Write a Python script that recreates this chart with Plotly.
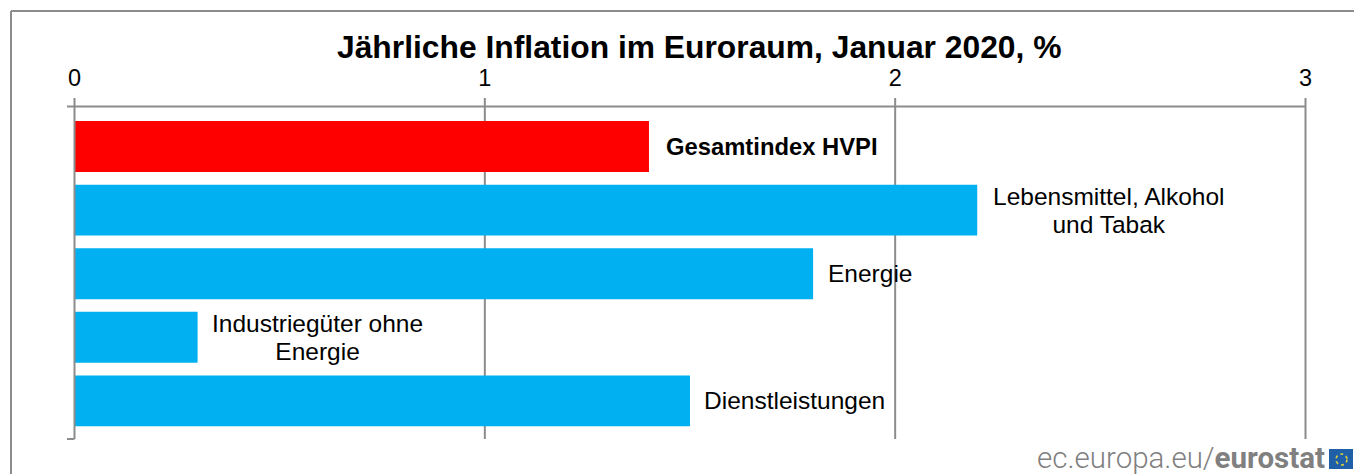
import plotly.graph_objects as go

W, H = 1354, 474
title = "Jährliche Inflation im Euroraum, Januar 2020, %"
categories = ["Gesamtindex HVPI", "Lebensmittel, Alkohol und Tabak", "Energie",
              "Industriegüter ohne Energie", "Dienstleistungen"]
labels = ["<b>Gesamtindex HVPI</b>", "Lebensmittel, Alkohol<br>und Tabak", "Energie",
          "Industriegüter ohne<br>Energie", "Dienstleistungen"]
values = [1.40, 2.20, 1.80, 0.30, 1.50]
colors = ["#FF0000", "#00B0F0", "#00B0F0", "#00B0F0", "#00B0F0"]
x_ticks = [0, 1, 2, 3]

GRAY = "#8C8C8C"
FONT = "Liberation Sans"
L, R, T, B = 74.5, 1305.5, 106.5, 439.0


def px(x):
    return x / W


def py(y):
    return 1 - y / H


fig = go.Figure(go.Bar(
    x=values, y=categories, orientation="h",
    marker=dict(color=colors, line=dict(width=0)),
    width=0.8, hoverinfo="skip",
))


def line(x0, y0, x1, y1, w=2, layer="above"):
    return dict(type="line", xref="paper", yref="paper", x0=px(x0), y0=py(y0),
                x1=px(x1), y1=py(y1), line=dict(color=GRAY, width=w), layer=layer)


shapes = [
    line(11, 11, 11, 474, 2), line(11, 11, 1354, 11, 2),
    line(67, T, R, T, 2), line(67, B, L, B, 2), line(L, 98, L, B, 2),
]
for tick in x_ticks[1:]:
    xp = L + (R - L) * tick / x_ticks[-1]
    shapes.append(line(xp, 98, xp, B, 2, "below"))

# Eurostat flag
shapes.append(dict(type="rect", xref="paper", yref="paper", x0=px(1329), x1=px(1353),
                   y0=py(469), y1=py(449), fillcolor="#1F5FA8", line=dict(width=0)))
shapes.append(dict(type="circle", xref="paper", yref="paper", x0=px(1336), x1=px(1347),
                   y0=py(465), y1=py(454), fillcolor="rgba(0,0,0,0)",
                   line=dict(color="#E3D23A", width=1.5, dash="dot")))


def sized(text, bold):
    size = 23.8 if bold else 24.5
    return "<br>".join('<span style="font-size:%spx">%s</span>' % (size, t) for t in text.split("<br>"))


annotations = []
gaps = [17, 16, 15, 14, 14]
for cat, val, lab, gap in zip(categories, values, labels, gaps):
    annotations.append(dict(x=val, y=cat, xref="x", yref="y", text=sized(lab, lab.startswith("<b>")),
                            showarrow=False,
                            xanchor="left", yanchor="middle", align="center", xshift=gap - 2,
                            font=dict(family=FONT, size=21.5, color="#000000")))
annotations.append(dict(x=px(699.5), y=py(47), xref="paper", yref="paper", text="<b>" + title + "</b>",
                        showarrow=False, xanchor="center", yanchor="middle",
                        font=dict(family=FONT, size=31.8, color="#000000")))
annotations.append(dict(x=px(1327), y=py(458), xref="paper", yref="paper",
                        text="ec.europa.eu/<b>eurostat</b>", showarrow=False,
                        xanchor="right", yanchor="middle",
                        font=dict(family="Roboto", size=29.5, color="#808080", weight=300)))

fig.update_layout(
    width=W, height=H, autosize=False,
    margin=dict(l=0, r=0, t=0, b=0, pad=0, autoexpand=False),
    paper_bgcolor="white", plot_bgcolor="white",
    showlegend=False, shapes=shapes, annotations=annotations,
    xaxis=dict(domain=[px(L), px(R)], range=[0, 3], side="top", tickvals=x_ticks,
               showgrid=False, zeroline=False, showline=False, ticks="", ticklabelstandoff=15,
               tickfont=dict(family=FONT, size=23.5, color="#000000")),
    yaxis=dict(domain=[py(B), py(T)], range=[4.6, -0.63], showticklabels=False,
               showgrid=False, zeroline=False, showline=False, ticks=""),
)
fig.write_html("out.html", config=dict(displayModeBar=False),
               post_script="document.body.style.margin='0';document.body.style.overflow='hidden';")
